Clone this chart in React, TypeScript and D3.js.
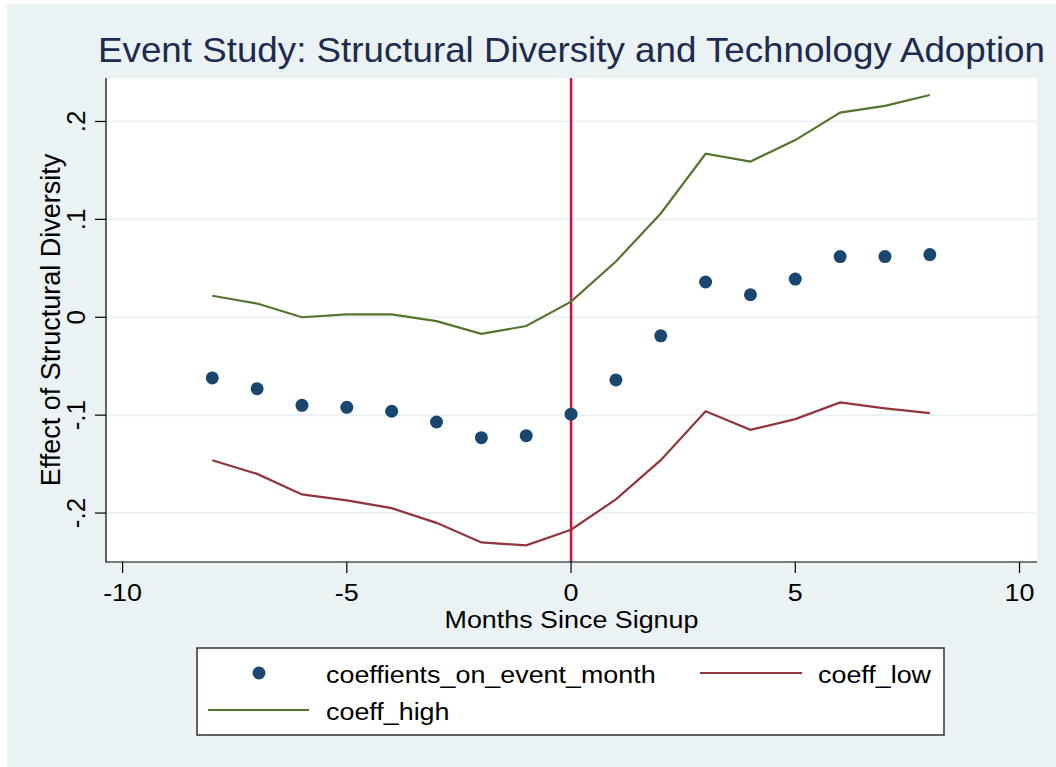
import React from 'react';
import * as d3 from 'd3';

// event months and estimated coefficients
const months = [-8, -7, -6, -5, -4, -3, -2, -1, 0, 1, 2, 3, 4, 5, 6, 7, 8];
const coefficients = [
  -0.062, -0.073, -0.09, -0.092, -0.096, -0.107, -0.123, -0.121, -0.099,
  -0.064, -0.019, 0.036, 0.023, 0.039, 0.062, 0.062, 0.064,
];
const coeffLow = [
  -0.146, -0.16, -0.181, -0.187, -0.195, -0.21, -0.23, -0.233, -0.217,
  -0.186, -0.146, -0.096, -0.115, -0.104, -0.087, -0.093, -0.098,
];
const coeffHigh = [
  0.022, 0.014, 0.0, 0.003, 0.003, -0.004, -0.017, -0.009, 0.016, 0.057,
  0.106, 0.167, 0.159, 0.181, 0.209, 0.216, 0.227,
];
const xTicks = [-10, -5, 0, 5, 10];
const yTicks = [-0.2, -0.1, 0, 0.1, 0.2];
const yTickLabels = ['-.2', '-.1', '0', '.1', '.2'];
const eventMonth = 0;

const title = 'Event Study: Structural Diversity and Technology Adoption';
const xTitle = 'Months Since Signup';
const yTitle = 'Effect of Structural Diversity';
const legendLabels = ['coeffients_on_event_month', 'coeff_low', 'coeff_high'];

const W = 1056;
const H = 767;
const plot = { left: 106, right: 1037, top: 78, bottom: 562 };

const BG = '#EAF2F3';
const DOT = '#1A476F';
const LOW = '#90353B';
const HIGH = '#55752F';
const VLINE = '#D0103A';
const font = "'Liberation Sans', Arial, sans-serif";
const sx = 1.12; // text in the source is drawn a bit wide

const App: React.FC = () => {
  const x = d3.scaleLinear().domain([-10.37, 10.39]).range([plot.left, plot.right]);
  const y = d3.scaleLinear().domain([-0.25, 0.2444]).range([plot.bottom, plot.top]);

  const line = d3
    .line<number>()
    .x((_, i) => x(months[i]))
    .y((d) => y(d));

  const plotMid = (plot.left + plot.right) / 2;

  return (
    <svg
      width={W}
      height={H}
      style={{ position: 'absolute', left: 0, top: 0, background: '#fff' }}
      fontFamily={font}
    >
      <rect x={7} y={4} width={W - 7} height={H - 4} fill={BG} />
      <rect
        x={plot.left}
        y={plot.top}
        width={plot.right - plot.left}
        height={plot.bottom - plot.top}
        fill="#fff"
      />

      {/* gridlines */}
      {yTicks.map((t) => (
        <line
          key={'g' + t}
          x1={plot.left}
          x2={plot.right}
          y1={y(t)}
          y2={y(t)}
          stroke={BG}
          strokeWidth={2}
        />
      ))}

      {/* event line */}
      <line
        x1={x(eventMonth)}
        x2={x(eventMonth)}
        y1={plot.top}
        y2={plot.bottom}
        stroke={VLINE}
        strokeWidth={2.5}
      />

      <path d={line(coeffHigh) || ''} fill="none" stroke={HIGH} strokeWidth={2.2} />
      <path d={line(coeffLow) || ''} fill="none" stroke={LOW} strokeWidth={2.2} />
      {coefficients.map((c, i) => (
        <circle key={'p' + i} cx={x(months[i])} cy={y(c)} r={6.5} fill={DOT} />
      ))}

      {/* axes */}
      <line x1={plot.left} x2={plot.left} y1={plot.top} y2={plot.bottom + 0.5} stroke="#000" strokeWidth={1.2} />
      <line x1={plot.left} x2={plot.right} y1={plot.bottom} y2={plot.bottom} stroke="#000" strokeWidth={1.2} />
      {yTicks.map((t, i) => (
        <g key={'y' + t}>
          <line x1={plot.left - 11} x2={plot.left} y1={y(t)} y2={y(t)} stroke="#000" strokeWidth={1.2} />
          <text
            transform={`translate(85,${y(t)}) rotate(-90)`}
            textAnchor="middle"
            fontSize={26}
            fill="#000"
          >
            {yTickLabels[i]}
          </text>
        </g>
      ))}
      {xTicks.map((t) => (
        <g key={'x' + t}>
          <line x1={x(t)} x2={x(t)} y1={plot.bottom} y2={plot.bottom + 11} stroke="#000" strokeWidth={1.2} />
          <text
            transform={`translate(${x(t)},601) scale(${sx},1)`}
            textAnchor="middle"
            fontSize={24}
            fill="#000"
          >
            {t}
          </text>
        </g>
      ))}

      {/* titles */}
      <text
        transform={`translate(${plotMid},62) scale(1.05,1)`}
        textAnchor="middle"
        fontSize={35}
        fill="#1C2B4E"
      >
        {title}
      </text>
      <text
        transform={`translate(${plotMid},628) scale(${sx},1)`}
        textAnchor="middle"
        fontSize={24}
        fill="#000"
      >
        {xTitle}
      </text>
      <text
        transform={`translate(60,${(plot.top + plot.bottom) / 2}) rotate(-90)`}
        textAnchor="middle"
        fontSize={27}
        fill="#000"
      >
        {yTitle}
      </text>

      {/* legend */}
      <rect x={197} y={648} width={747} height={87} fill="#fff" stroke="#333" strokeWidth={1.5} />
      <circle cx={259} cy={673} r={6.5} fill={DOT} />
      <text transform={`translate(326,683) scale(${sx},1)`} fontSize={24} fill="#000">
        {legendLabels[0]}
      </text>
      <line x1={700} x2={802} y1={673} y2={673} stroke={LOW} strokeWidth={2.2} />
      <text transform={`translate(818,683) scale(${sx},1)`} fontSize={24} fill="#000">
        {legendLabels[1]}
      </text>
      <line x1={208} x2={309} y1={710} y2={710} stroke={HIGH} strokeWidth={2.2} />
      <text transform={`translate(326,720) scale(${sx},1)`} fontSize={24} fill="#000">
        {legendLabels[2]}
      </text>
    </svg>
  );
};

export default App;
